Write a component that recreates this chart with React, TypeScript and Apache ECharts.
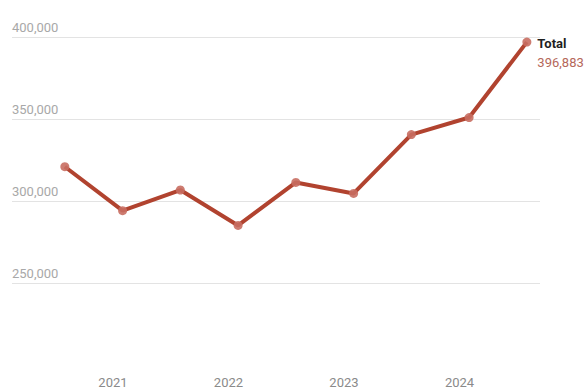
import React, { useEffect, useRef } from "react";
import * as echarts from "echarts";

const periods = ["2020-08", "2021-02", "2021-08", "2022-02", "2022-08", "2023-02", "2023-08", "2024-02", "2024-08"];
const totals = [320900, 294100, 306700, 285100, 311300, 304600, 340500, 350900, 396883];
const yearTicks = [2021, 2022, 2023, 2024];
const seriesName = "Total";

const FONT = "Roboto, 'Noto Sans', sans-serif";

function toYear(p: string): number {
  const [y, m] = p.split("-").map(Number);
  return y + (m - 1) / 12;
}

function fmt(v: number): string {
  return v.toLocaleString("en-US");
}

export default function App() {
  const ref = useRef<HTMLDivElement>(null);
  useEffect(() => {
    if (!ref.current) return;
    const chart = echarts.init(ref.current, null, { renderer: "svg" });
    const last = totals.length - 1;
    const data = periods.map((p, i) => {
      const item: any = { value: [toYear(p), totals[i]] };
      if (i === last) {
        item.label = {
          show: true,
          position: "right",
          distance: 6,
          offset: [0, 11],
          formatter: () => `{t|${seriesName}}\n{v|${fmt(totals[i])}}`,
          rich: {
            t: { fontFamily: FONT, fontSize: 13, fontWeight: "bold", color: "#1f1f1f", lineHeight: 19 },
            v: { fontFamily: FONT, fontSize: 13, color: "#b5685a", lineHeight: 19 },
          },
        };
      }
      return item;
    });
    chart.setOption({
      animation: false,
      backgroundColor: "#ffffff",
      grid: { left: 12, right: 44, top: 37, bottom: 108 },
      xAxis: {
        type: "value",
        min: 2020.126,
        max: 2024.697,
        axisLine: { show: false },
        axisTick: { show: false },
        splitLine: { show: false },
        axisLabel: {
          customValues: yearTicks,
          formatter: (v: number) => String(Math.round(v)),
          fontFamily: FONT,
          fontSize: 13,
          color: "#8a8a8a",
          margin: 93,
        },
      },
      yAxis: {
        type: "value",
        min: 250000,
        max: 400000,
        interval: 50000,
        axisLine: { show: false },
        axisTick: { show: false },
        splitLine: { lineStyle: { color: "#e3e3e3", width: 1 } },
        axisLabel: {
          inside: true,
          margin: 0,
          verticalAlign: "bottom",
          padding: [0, 0, 3, 0],
          fontFamily: FONT,
          fontSize: 13,
          color: "#a8a8a8",
          formatter: (v: number) => fmt(v),
        },
      },
      series: [
        {
          name: seriesName,
          type: "line",
          data,
          symbol: "circle",
          symbolSize: 9,
          lineStyle: { color: "#b1432f", width: 4 },
          itemStyle: { color: "rgba(200,110,98,0.9)" },
          z: 3,
        },
      ],
    });
    return () => chart.dispose();
  }, []);
  return (
    <div
      ref={ref}
      style={{ position: "fixed", left: 0, top: 0, width: 584, height: 391, background: "#fff" }}
    />
  );
}
